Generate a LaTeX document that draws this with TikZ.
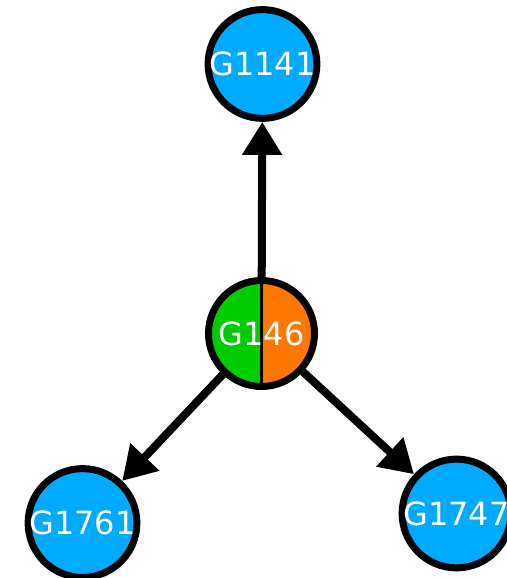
\documentclass[tikz,border=0pt]{standalone}
\usepackage{fontspec}
\setmainfont{DejaVu Sans}
\usetikzlibrary{arrows.meta}
\definecolor{nodeblue}{RGB}{0,170,255}
\definecolor{nodegreen}{RGB}{0,204,0}
\definecolor{nodeorange}{RGB}{255,119,0}
\tikzset{
  gnode/.style={circle, draw=black, line width=7pt, inner sep=0pt, minimum size=106pt,
    text=white, font=\fontsize{32}{38}\selectfont},
  bluenode/.style={gnode, fill=nodeblue},
  edgearrow/.style={line width=8pt, -{Triangle[length=33pt,width=38pt]}}
}
\begin{document}
\begin{tikzpicture}[x=1pt,y=-1pt]
\useasboundingbox (0,0) rectangle (506,578);
\node[bluenode] (g1141) at (262.5,64) {G1141};
\node[gnode, path picture={
    \fill[nodegreen] (path picture bounding box.south west) rectangle (path picture bounding box.north);
    \fill[nodeorange] (path picture bounding box.south) rectangle (path picture bounding box.north east);
    \draw[black, line width=2.5pt] (path picture bounding box.south) -- (path picture bounding box.north);
  }] (g146) at (261.5,333.5) {G146};
\node[bluenode] (g1761) at (82.5,523) {G1761};
\node[bluenode] (g1747) at (456.5,513.5) {G1747};
\draw[edgearrow] (g146) -- (g1141);
\draw[edgearrow] (g146) -- (g1761);
\draw[edgearrow] (g146) -- (g1747);
\end{tikzpicture}
\end{document}
